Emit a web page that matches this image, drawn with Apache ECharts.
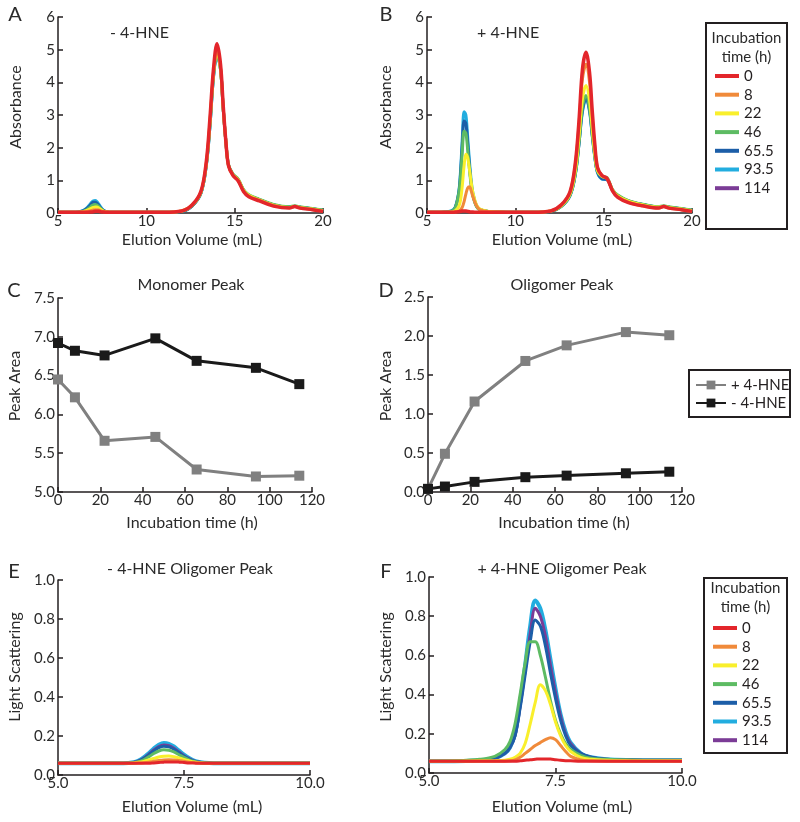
<!DOCTYPE html>
<html>
<head>
<meta charset="utf-8">
<script src="https://cdn.jsdelivr.net/npm/echarts@6/dist/echarts.min.js"></script>
<style>
html,body{margin:0;padding:0;background:#fff;}
#chart{width:800px;height:822px;}
</style>
</head>
<body>
<div id="chart"></div>
<script>
// ---------- DATA ----------
const timeNames = ['0','8','22','46','65.5','93.5','114'];

// Panels A/B: elution volume (mL)
const xAB = [5,6,6.4,6.6,6.8,6.9,7.0,7.1,7.2,7.3,7.4,7.5,7.6,7.8,8.0,8.5,9,10,11,12,12.6,13.1,13.4,13.6,13.8,14.0,14.2,14.35,14.5,14.65,14.9,15.2,15.5,15.8,16.4,17.2,18.1,18.4,18.7,19.4,20];

// Panel A: - 4-HNE absorbance
const absA_0   = [0.02,0.02,0.02,0.02,0.03,0.03,0.04,0.05,0.05,0.05,0.04,0.03,0.03,0.02,0.02,0.02,0.02,0.02,0.02,0.06,0.25,0.68,1.6,2.9,4.4,5.18,4.55,3.3,2.2,1.45,1.15,0.98,0.66,0.5,0.37,0.21,0.15,0.2,0.15,0.1,0.05];
const absA_8   = [0.02,0.02,0.03,0.04,0.06,0.08,0.09,0.1,0.1,0.09,0.07,0.05,0.04,0.03,0.02,0.02,0.02,0.02,0.02,0.06,0.24,0.66,1.55,2.8,4.3,5.0,4.45,3.25,2.2,1.45,1.16,1.0,0.68,0.52,0.39,0.23,0.16,0.2,0.16,0.11,0.06];
const absA_22  = [0.02,0.02,0.04,0.07,0.12,0.15,0.17,0.18,0.18,0.16,0.12,0.08,0.05,0.03,0.02,0.02,0.02,0.02,0.02,0.06,0.24,0.65,1.53,2.75,4.25,4.95,4.4,3.2,2.2,1.46,1.17,1.02,0.7,0.54,0.4,0.24,0.17,0.21,0.17,0.12,0.07];
const absA_46  = [0.02,0.02,0.05,0.09,0.17,0.22,0.25,0.26,0.24,0.2,0.14,0.09,0.06,0.03,0.02,0.02,0.02,0.02,0.02,0.05,0.23,0.63,1.5,2.7,4.2,4.9,4.4,3.2,2.2,1.48,1.2,1.04,0.72,0.56,0.42,0.26,0.19,0.22,0.19,0.14,0.09];
const absA_65  = [0.02,0.02,0.06,0.12,0.22,0.29,0.33,0.33,0.3,0.24,0.17,0.11,0.07,0.03,0.02,0.02,0.02,0.02,0.02,0.05,0.22,0.62,1.48,2.65,4.15,4.85,4.4,3.2,2.2,1.47,1.18,1.02,0.7,0.54,0.41,0.25,0.18,0.21,0.18,0.13,0.08];
const absA_93  = [0.02,0.02,0.07,0.14,0.26,0.33,0.37,0.38,0.35,0.28,0.2,0.12,0.07,0.03,0.02,0.02,0.02,0.02,0.02,0.05,0.22,0.62,1.48,2.65,4.15,4.85,4.38,3.2,2.2,1.47,1.18,1.02,0.7,0.54,0.41,0.25,0.18,0.21,0.18,0.13,0.08];
const absA_114 = [];

// Panel B: + 4-HNE absorbance
const absB_0   = [0.02,0.02,0.02,0.03,0.04,0.05,0.06,0.06,0.06,0.05,0.04,0.03,0.03,0.02,0.02,0.02,0.02,0.02,0.02,0.06,0.25,0.66,1.55,2.8,4.4,4.92,4.3,3.15,2.1,1.4,1.15,1.05,0.68,0.48,0.32,0.22,0.15,0.2,0.15,0.1,0.05];
const absB_8   = [0.02,0.02,0.02,0.03,0.06,0.1,0.18,0.35,0.58,0.76,0.8,0.68,0.5,0.22,0.1,0.04,0.03,0.02,0.02,0.06,0.24,0.64,1.5,2.7,4.1,4.55,4.0,2.95,2.0,1.38,1.15,1.05,0.68,0.49,0.33,0.22,0.15,0.2,0.15,0.1,0.05];
const absB_22  = [0.02,0.02,0.03,0.07,0.2,0.4,0.85,1.45,1.8,1.7,1.35,0.95,0.62,0.25,0.12,0.05,0.03,0.02,0.02,0.06,0.22,0.58,1.3,2.3,3.5,3.9,3.45,2.6,1.8,1.3,1.12,1.05,0.7,0.52,0.36,0.25,0.18,0.21,0.17,0.12,0.07];
const absB_46  = [0.02,0.03,0.06,0.16,0.6,1.1,1.9,2.5,2.45,1.95,1.35,0.85,0.52,0.2,0.1,0.05,0.03,0.02,0.02,0.05,0.2,0.55,1.22,2.15,3.25,3.6,3.2,2.45,1.75,1.28,1.12,1.08,0.72,0.55,0.38,0.27,0.19,0.22,0.19,0.14,0.09];
const absB_65  = [0.02,0.03,0.06,0.17,0.62,1.2,2.1,2.82,2.75,2.15,1.45,0.9,0.55,0.21,0.1,0.05,0.03,0.02,0.02,0.05,0.2,0.54,1.2,2.1,3.15,3.52,3.15,2.4,1.72,1.25,1.05,1.02,0.7,0.53,0.37,0.26,0.18,0.21,0.18,0.13,0.08];
const absB_93  = [0.02,0.03,0.07,0.18,0.65,1.3,2.3,3.1,3.0,2.35,1.6,1.0,0.6,0.23,0.11,0.05,0.03,0.02,0.02,0.05,0.2,0.54,1.2,2.1,3.1,3.48,3.1,2.38,1.7,1.24,1.04,1.02,0.7,0.53,0.37,0.26,0.18,0.21,0.18,0.13,0.08];
const absB_114 = [];

// Panels C/D: incubation time (h)
const hours = [0,8,22,46,65.5,93.5,114];
const monoPlus  = [6.45,6.22,5.66,5.71,5.29,5.20,5.21];
const monoMinus = [6.92,6.82,6.76,6.98,6.69,6.60,6.39];
const oligoPlus  = [0.04,0.49,1.16,1.68,1.88,2.05,2.01];
const oligoMinus = [0.04,0.07,0.13,0.19,0.21,0.24,0.26];

// Panels E/F: light scattering vs elution volume
const xEF = [5,5.5,6,6.3,6.5,6.6,6.7,6.8,6.9,7.0,7.1,7.2,7.3,7.4,7.5,7.6,7.7,7.8,8.0,8.2,8.5,9,9.5,10];
const lsE_0   = [0.06,0.06,0.06,0.06,0.06,0.06,0.06,0.06,0.062,0.064,0.066,0.067,0.067,0.066,0.064,0.062,0.061,0.06,0.06,0.06,0.06,0.06,0.06,0.06];
const lsE_8   = [0.06,0.06,0.06,0.06,0.06,0.061,0.063,0.066,0.07,0.074,0.077,0.078,0.077,0.074,0.07,0.066,0.063,0.061,0.06,0.06,0.06,0.06,0.06,0.06];
const lsE_22  = [0.06,0.06,0.06,0.06,0.062,0.065,0.07,0.077,0.085,0.092,0.096,0.097,0.094,0.088,0.08,0.073,0.067,0.063,0.06,0.06,0.06,0.06,0.06,0.06];
const lsE_46  = [0.06,0.06,0.06,0.06,0.063,0.068,0.078,0.093,0.11,0.123,0.129,0.127,0.118,0.104,0.09,0.078,0.069,0.064,0.06,0.06,0.06,0.06,0.06,0.06];
const lsE_65  = [0.06,0.06,0.06,0.06,0.064,0.071,0.084,0.103,0.123,0.14,0.148,0.144,0.132,0.114,0.096,0.082,0.071,0.065,0.061,0.06,0.06,0.06,0.06,0.06];
const lsE_93  = [0.06,0.06,0.06,0.06,0.065,0.074,0.09,0.112,0.136,0.155,0.164,0.16,0.146,0.125,0.104,0.087,0.074,0.067,0.061,0.06,0.06,0.06,0.06,0.06];
const lsE_114 = [0.06,0.06,0.06,0.06,0.064,0.072,0.086,0.106,0.128,0.146,0.154,0.15,0.137,0.118,0.099,0.084,0.072,0.066,0.061,0.06,0.06,0.06,0.06,0.06];

const lsF_0   = [0.06,0.06,0.06,0.06,0.06,0.06,0.06,0.062,0.065,0.068,0.07,0.072,0.072,0.071,0.068,0.065,0.063,0.062,0.06,0.06,0.06,0.06,0.06,0.06];
const lsF_8   = [0.06,0.06,0.06,0.06,0.06,0.062,0.067,0.08,0.1,0.12,0.14,0.155,0.17,0.18,0.17,0.14,0.11,0.085,0.067,0.062,0.06,0.06,0.06,0.06];
const lsF_22  = [0.06,0.06,0.062,0.063,0.065,0.07,0.08,0.1,0.15,0.25,0.36,0.45,0.42,0.35,0.26,0.19,0.14,0.11,0.08,0.07,0.065,0.063,0.062,0.062];
const lsF_46  = [0.06,0.062,0.07,0.085,0.12,0.16,0.25,0.4,0.56,0.67,0.67,0.6,0.49,0.37,0.27,0.2,0.15,0.12,0.09,0.075,0.07,0.066,0.065,0.065];
const lsF_65  = [0.06,0.06,0.065,0.075,0.1,0.13,0.19,0.33,0.5,0.67,0.78,0.75,0.65,0.51,0.38,0.27,0.19,0.14,0.1,0.08,0.07,0.066,0.065,0.065];
const lsF_93  = [0.06,0.06,0.065,0.075,0.1,0.13,0.2,0.36,0.55,0.75,0.88,0.84,0.73,0.58,0.43,0.3,0.21,0.155,0.1,0.08,0.07,0.066,0.065,0.065];
const lsF_114 = [0.06,0.06,0.065,0.075,0.1,0.13,0.19,0.34,0.52,0.71,0.84,0.8,0.7,0.55,0.41,0.29,0.2,0.15,0.1,0.08,0.07,0.066,0.065,0.065];

// Tick values
const ticksAbs = [0,1,2,3,4,5,6];
const ticksVol = [5,10,15,20];

// ---------- STYLE ----------
const FONT = 'Lato, "Open Sans", sans-serif';
const INK = '#231f20';
const TXT = '#2a2a2a';
const timeColor = {'0':'#e3262b','8':'#f08a3a','22':'#f9ef2c','46':'#5dbb63','65.5':'#1c5ea8','93.5':'#22addf','114':'#7b3c96'};

const chart = echarts.init(document.getElementById('chart'), null, {renderer:'canvas'});

function axis(extra){
  return Object.assign({
    type:'value',
    axisLine:{show:true,onZero:false,lineStyle:{color:INK,width:1.5}},
    axisTick:{show:true,inside:true,length:5,lineStyle:{color:INK,width:1.5}},
    splitLine:{show:false},
    axisLabel:{color:TXT,fontSize:15,fontFamily:FONT,margin:3}
  }, extra);
}
function xax(gi,min,max,interval,fmt){
  const a = axis({gridIndex:gi,min:min,max:max,interval:interval});
  a.axisLabel = Object.assign({}, a.axisLabel, {margin:1});
  if(fmt) a.axisLabel.formatter = fmt;
  return a;
}
function yax(gi,min,max,interval,fmt){
  const a = axis({gridIndex:gi,min:min,max:max,interval:interval});
  if(fmt) a.axisLabel.formatter = fmt;
  return a;
}
const f1 = v => v.toFixed(1);

function trace(name, xs, ys, gi, width, z){
  return {
    type:'line', name:name, xAxisIndex:gi, yAxisIndex:gi,
    data: ys.map((y,i)=>[xs[i], y]),
    symbol:'none', smooth:0.35, clip:true, z:z,
    lineStyle:{color:timeColor[name], width:width},
    itemStyle:{color:timeColor[name]},
    silent:true
  };
}
function area(name, xs, ys, gi, color, z){
  return {
    type:'line', name:name, xAxisIndex:gi, yAxisIndex:gi,
    data: ys.map((y,i)=>[xs[i], y]),
    symbol:'rect', symbolSize:10, showSymbol:true, clip:false, z:z,
    lineStyle:{color:color, width:3},
    itemStyle:{color:color},
    silent:true
  };
}

const series = [];
const A = {'0':absA_0,'8':absA_8,'22':absA_22,'46':absA_46,'65.5':absA_65,'93.5':absA_93,'114':absA_114};
const B = {'0':absB_0,'8':absB_8,'22':absB_22,'46':absB_46,'65.5':absB_65,'93.5':absB_93,'114':absB_114};
const E = {'0':lsE_0,'8':lsE_8,'22':lsE_22,'46':lsE_46,'65.5':lsE_65,'93.5':lsE_93,'114':lsE_114};
const F = {'0':lsF_0,'8':lsF_8,'22':lsF_22,'46':lsF_46,'65.5':lsF_65,'93.5':lsF_93,'114':lsF_114};
const orderAB = ['114','93.5','65.5','46','22','8','0'];
const orderEF = ['93.5','114','65.5','46','22','8','0'];
orderAB.forEach((n,k)=>series.push(trace(n,xAB,A[n],0,n==='0'?3.5:3,k+2)));
orderAB.forEach((n,k)=>series.push(trace(n,xAB,B[n],1,n==='0'?3.5:3,k+2)));
series.push(area('+ 4-HNE',hours,monoPlus,2,'#808080',3));
series.push(area('- 4-HNE',hours,monoMinus,2,'#1a1a1a',3));
series.push(area('+ 4-HNE',hours,oligoPlus,3,'#808080',3));
series.push(area('- 4-HNE',hours,oligoMinus,3,'#1a1a1a',4));
orderEF.forEach((n,k)=>series.push(trace(n,xEF,E[n],4,n==='93.5'?4:3,k+2)));
orderEF.forEach((n,k)=>series.push(trace(n,xEF,F[n],5,n==='93.5'?4:3,k+2)));

function txt(text,x,y,size,align,rot){
  const o = {type:'text', x:x, y:y, silent:true,
    style:{text:text, font:size+'px '+FONT, fill:TXT, textAlign:align||'center', textVerticalAlign:'middle'}};
  if(rot) o.rotation = rot;
  return o;
}
const R = Math.PI/2;

const option = {
  animation:false,
  backgroundColor:'#ffffff',
  grid:[
    {left:58, top:17, width:265, height:196},
    {left:427, top:17, width:265, height:196},
    {left:58, top:298, width:254, height:194},
    {left:428, top:297, width:254, height:195},
    {left:58, top:580, width:252, height:195},
    {left:429, top:577, width:253, height:196}
  ],
  xAxis:[
    xax(0,ticksVol[0],ticksVol[ticksVol.length-1],5),
    xax(1,ticksVol[0],ticksVol[ticksVol.length-1],5),
    xax(2,0,120,20),
    xax(3,0,120,20),
    xax(4,5,10,2.5,f1),
    xax(5,5,10,2.5,f1)
  ],
  yAxis:[
    yax(0,ticksAbs[0],ticksAbs[ticksAbs.length-1],1),
    yax(1,ticksAbs[0],ticksAbs[ticksAbs.length-1],1),
    yax(2,5,7.5,0.5,f1),
    yax(3,0,2.5,0.5,f1),
    yax(4,0,1,0.2,f1),
    yax(5,0,1,0.2,f1)
  ],
  legend:[
    {data:timeNames, orient:'vertical', left:715, top:68, padding:0, icon:'rect',
     itemWidth:24, itemHeight:4, itemGap:2.7, selectedMode:false,
     textStyle:{fontSize:15, lineHeight:16, fontFamily:FONT, color:INK}},
    {data:timeNames, orient:'vertical', left:713, top:620, padding:0, icon:'rect',
     itemWidth:24, itemHeight:4, itemGap:2.7, selectedMode:false,
     textStyle:{fontSize:15, lineHeight:16, fontFamily:FONT, color:INK}},
    {data:['+ 4-HNE','- 4-HNE'], orient:'vertical', left:695, top:377, padding:0,
     itemWidth:30, itemHeight:11, itemGap:2, selectedMode:false,
     textStyle:{fontSize:15, lineHeight:16, fontFamily:FONT, color:INK}}
  ],
  graphic:[
    {type:'rect', shape:{x:706,y:23,width:81,height:206}, style:{fill:'none',stroke:INK,lineWidth:2}, silent:true},
    {type:'rect', shape:{x:704,y:578,width:83,height:175}, style:{fill:'none',stroke:INK,lineWidth:2}, silent:true},
    {type:'rect', shape:{x:689,y:370,width:101,height:47}, style:{fill:'none',stroke:INK,lineWidth:2}, silent:true},
    txt('Incubation',746.5,38,15), txt('time (h)',746.5,57,15),
    txt('Incubation',745.5,588,15), txt('time (h)',745.5,607,15),
    txt('A',15,15,20), txt('B',386,15,20),
    txt('C',14,291,20), txt('D',386,291,20),
    txt('E',14,572,20), txt('F',386,572,20),
    txt('- 4-HNE',110,33,16,'left'), txt('+ 4-HNE',477,33,16,'left'),
    txt('Monomer Peak',191,285,16), txt('Oligomer Peak',562,285,16),
    txt('- 4-HNE Oligomer Peak',190,569,16), txt('+ 4-HNE Oligomer Peak',562,569,16),
    txt('Elution Volume (mL)',192,240,16), txt('Elution Volume (mL)',562,240,16),
    txt('Incubation time (h)',192,523,16), txt('Incubation time (h)',564,523,16),
    txt('Elution Volume (mL)',192,807,16), txt('Elution Volume (mL)',562,807,16),
    txt('Absorbance',16,107,16,'center',R), txt('Absorbance',386,107,16,'center',R),
    txt('Peak Area',15,386,16,'center',R), txt('Peak Area',386,386,16,'center',R),
    txt('Light Scattering',15,667,16,'center',R), txt('Light Scattering',386,667,16,'center',R)
  ],
  series:series
};
chart.setOption(option);
</script>
</body>
</html>
